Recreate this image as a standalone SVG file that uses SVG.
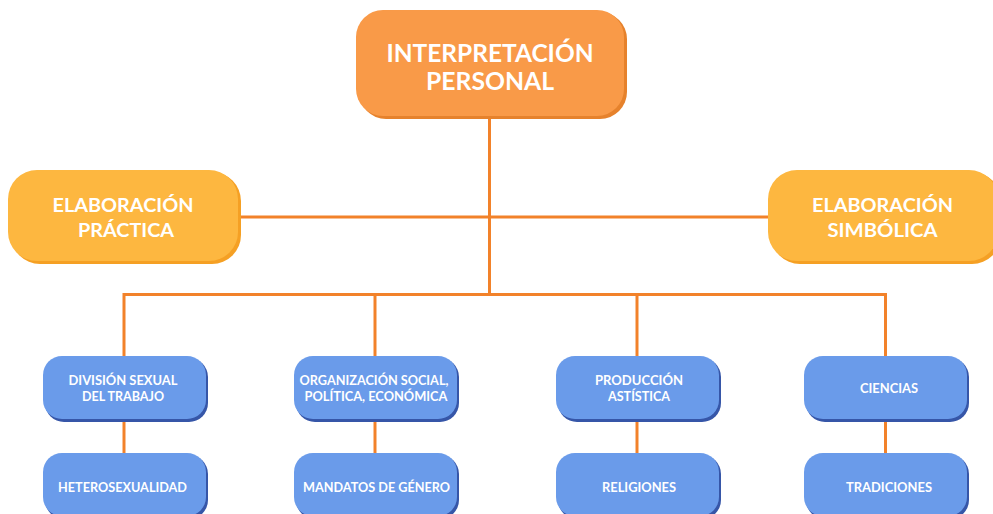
<svg xmlns="http://www.w3.org/2000/svg" width="993" height="514" viewBox="0 0 993 514">
<style>
.t{font-family:Lato,"Open Sans","Liberation Sans",sans-serif;font-weight:700;fill:#ffffff;text-anchor:middle}
.big{font-size:25px}
.mid{font-size:19px}
.sm{font-size:14px}
.co{fill:none;stroke:#F2822A;stroke-width:3}
.o{fill:#F99A48}.os{fill:#E6822C}
.y{fill:#FDB740}.ys{fill:#F5A024}
.b{fill:#6A9BEA}.bs{fill:#3656A8}
</style>
<rect width="993" height="514" fill="#ffffff"/>
<g id="connectors">
<path class="co" d="M489.5 117 V294.5"/>
<path class="co" d="M238 217 H768"/>
<path class="co" d="M124 356 V294.5 H885.5 V356"/>
<path class="co" d="M375 294.5 V356"/>
<path class="co" d="M637 294.5 V356"/>
<path class="co" d="M124 420 V453"/>
<path class="co" d="M375 420 V453"/>
<path class="co" d="M637 420 V453"/>
<path class="co" d="M885.5 420 V453"/>
</g>
<g id="n-interpretacion">
<rect class="os" x="359" y="12" width="268" height="107" rx="27"/>
<rect class="o" x="356" y="10" width="268" height="106" rx="27"/>
<text class="t big" x="490" y="62" textLength="207" lengthAdjust="spacingAndGlyphs">INTERPRETACIÓN</text>
<text class="t big" x="490" y="90" textLength="128" lengthAdjust="spacingAndGlyphs">PERSONAL</text>
</g>
<g id="n-practica">
<rect class="ys" x="11" y="172" width="230" height="92" rx="29"/>
<rect class="y" x="8" y="170" width="230" height="91" rx="29"/>
<text class="t mid" x="123" y="212" textLength="141" lengthAdjust="spacingAndGlyphs">ELABORACIÓN</text>
<text class="t mid" x="126" y="237" textLength="96" lengthAdjust="spacingAndGlyphs">PRÁCTICA</text>
</g>
<g id="n-simbolica">
<rect class="ys" x="771" y="172" width="230" height="92" rx="29"/>
<rect class="y" x="768" y="170" width="230" height="91" rx="29"/>
<text class="t mid" x="882.5" y="212" textLength="141" lengthAdjust="spacingAndGlyphs">ELABORACIÓN</text>
<text class="t mid" x="882.5" y="237" textLength="110" lengthAdjust="spacingAndGlyphs">SIMBÓLICA</text>
</g>
<g id="n-division">
<rect class="bs" x="45" y="358" width="163" height="64" rx="19"/>
<rect class="b" x="43" y="356" width="163" height="63" rx="19"/>
<text class="t sm" x="123" y="385" textLength="109" lengthAdjust="spacingAndGlyphs">DIVISIÓN SEXUAL</text>
<text class="t sm" x="123" y="401" textLength="82" lengthAdjust="spacingAndGlyphs">DEL TRABAJO</text>
</g>
<g id="n-organizacion">
<rect class="bs" x="296" y="358" width="163" height="64" rx="19"/>
<rect class="b" x="294" y="356" width="163" height="63" rx="19"/>
<text class="t sm" x="374" y="385" textLength="149" lengthAdjust="spacingAndGlyphs">ORGANIZACIÓN SOCIAL,</text>
<text class="t sm" x="376" y="401" textLength="143" lengthAdjust="spacingAndGlyphs">POLÍTICA, ECONÓMICA</text>
</g>
<g id="n-produccion">
<rect class="bs" x="558" y="358" width="163" height="64" rx="19"/>
<rect class="b" x="556" y="356" width="163" height="63" rx="19"/>
<text class="t sm" x="639" y="385" textLength="88" lengthAdjust="spacingAndGlyphs">PRODUCCIÓN</text>
<text class="t sm" x="639" y="401" textLength="62" lengthAdjust="spacingAndGlyphs">ASTÍSTICA</text>
</g>
<g id="n-ciencias">
<rect class="bs" x="806" y="358" width="163" height="64" rx="19"/>
<rect class="b" x="804" y="356" width="163" height="63" rx="19"/>
<text class="t sm" x="889" y="393" textLength="58" lengthAdjust="spacingAndGlyphs">CIENCIAS</text>
</g>
<g id="n-heterosexualidad">
<rect class="bs" x="45" y="455" width="163" height="64" rx="19"/>
<rect class="b" x="43" y="453" width="163" height="63" rx="19"/>
<text class="t sm" x="122.5" y="492" textLength="129" lengthAdjust="spacingAndGlyphs">HETEROSEXUALIDAD</text>
</g>
<g id="n-mandatos">
<rect class="bs" x="296" y="455" width="163" height="64" rx="19"/>
<rect class="b" x="294" y="453" width="163" height="63" rx="19"/>
<text class="t sm" x="376.5" y="492" textLength="147" lengthAdjust="spacingAndGlyphs">MANDATOS DE GÉNERO</text>
</g>
<g id="n-religiones">
<rect class="bs" x="558" y="455" width="163" height="64" rx="19"/>
<rect class="b" x="556" y="453" width="163" height="63" rx="19"/>
<text class="t sm" x="639" y="492" textLength="74" lengthAdjust="spacingAndGlyphs">RELIGIONES</text>
</g>
<g id="n-tradiciones">
<rect class="bs" x="806" y="455" width="163" height="64" rx="19"/>
<rect class="b" x="804" y="453" width="163" height="63" rx="19"/>
<text class="t sm" x="889" y="492" textLength="86" lengthAdjust="spacingAndGlyphs">TRADICIONES</text>
</g>
</svg>
